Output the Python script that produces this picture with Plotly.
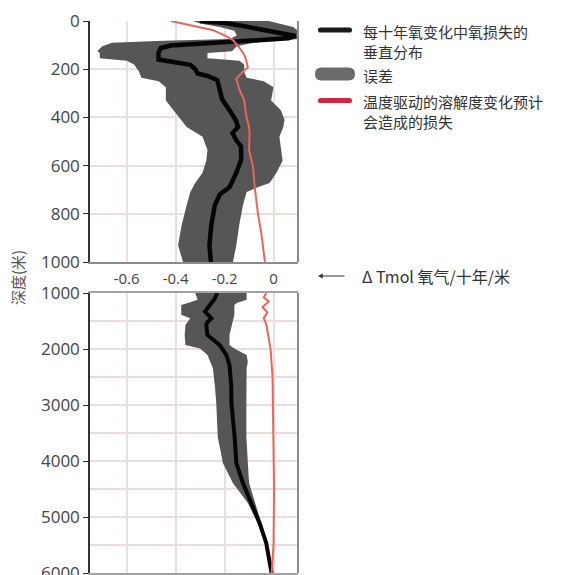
import plotly.graph_objects as go

W, H = 566, 575

# ---- Upper ocean, 0-1000 m ----
top_mean_depth = [0, 8, 20, 35, 50, 62, 72, 82, 92, 102, 112, 130, 160, 172, 182, 200,
                  218, 228, 245, 285, 325, 370, 410, 440, 465, 495, 520, 575, 630, 690,
                  720, 765, 845, 930, 1000]
top_mean = [-0.30, -0.20, -0.13, -0.05, 0.04, 0.09, 0.06, -0.10, -0.30, -0.42, -0.46, -0.47,
            -0.47, -0.40, -0.34, -0.32, -0.31, -0.27, -0.23, -0.22, -0.21, -0.18, -0.155,
            -0.145, -0.168, -0.152, -0.133, -0.132, -0.152, -0.18, -0.22, -0.24, -0.254,
            -0.262, -0.256]

top_band_depth = [0, 10, 25, 40, 60, 75, 82, 90, 105, 125, 133, 155, 165, 180, 210, 235,
                  250, 275, 330, 370, 410, 440, 480, 535, 580, 630, 672, 692, 710, 765,
                  845, 930, 1000]
top_band_lo = [-0.33, -0.30, -0.22, -0.16, -0.15, -0.18, -0.45, -0.66, -0.70, -0.72, -0.71,
               -0.71, -0.60, -0.57, -0.55, -0.54, -0.47, -0.44, -0.44, -0.41, -0.38, -0.355,
               -0.29, -0.27, -0.275, -0.29, -0.32, -0.33, -0.34, -0.355, -0.375, -0.39, -0.37]
top_band_hi = [-0.02, 0.02, 0.08, 0.10, 0.10, 0.10, 0.03, -0.08, -0.15, -0.17, -0.27, -0.27,
               -0.14, -0.12, -0.12, -0.11, -0.04, 0.00, -0.01, 0.03, 0.045, 0.04, 0.024, 0.03,
               0.037, 0.012, -0.016, -0.07, -0.11, -0.125, -0.14, -0.152, -0.166]

top_red_depth = [0, 20, 37, 60, 79, 110, 140, 166, 193, 215, 241, 286, 328, 397, 440, 466,
                 535, 604, 687, 798, 881, 1000]
top_red = [-0.42, -0.33, -0.25, -0.20, -0.166, -0.14, -0.12, -0.111, -0.105, -0.13, -0.152,
           -0.139, -0.12, -0.111, -0.10, -0.098, -0.10, -0.084, -0.077, -0.064, -0.05, -0.035]

# ---- Deep ocean, 1000-6000 m ----
deep_mean_depth = [1000, 1100, 1214, 1333, 1400, 1452, 1520, 1571, 1750, 1850, 1929, 2107,
                   2286, 2643, 2964, 3565, 4036, 4393, 4750, 5107, 5464, 5887, 6000]
deep_mean = [-0.23, -0.24, -0.26, -0.28, -0.265, -0.254, -0.27, -0.275, -0.27, -0.245, -0.22,
             -0.193, -0.18, -0.173, -0.172, -0.159, -0.152, -0.125, -0.091, -0.057, -0.03,
             -0.01, -0.008]

deep_band_depth = [1000, 1120, 1180, 1214, 1390, 1452, 1570, 1750, 1930, 1990, 2107, 2230,
                   2340, 2643, 2964, 3565, 4036, 4393, 4750, 5107, 5464, 6000]
deep_band_lo = [-0.32, -0.31, -0.35, -0.377, -0.377, -0.34, -0.36, -0.363, -0.36, -0.30, -0.27,
                -0.26, -0.248, -0.24, -0.234, -0.228, -0.207, -0.166, -0.105, -0.065, -0.035,
                -0.01]
deep_band_hi = [-0.11, -0.11, -0.15, -0.16, -0.16, -0.166, -0.17, -0.18, -0.18, -0.16, -0.11,
                -0.105, -0.11, -0.11, -0.111, -0.111, -0.105, -0.10, -0.078, -0.05, -0.025,
                -0.006]

deep_red_depth = [1000, 1080, 1150, 1250, 1350, 1450, 1550, 1700, 2000, 2500, 3500, 4500,
                  5500, 6000]
deep_red = [-0.03, -0.04, -0.02, -0.045, -0.025, -0.04, -0.03, -0.025, -0.012, -0.004, 0.0,
            0.002, 0.0, -0.008]

x_ticks = [-0.6, -0.4, -0.2, 0]
x_tick_text = ["-0.6", "-0.4", "-0.2", "0"]
top_depth_ticks = [0, 200, 400, 600, 800, 1000]

legend_lines = [["每十年氧变化中氧损失的", "垂直分布"], ["误差"],
                ["温度驱动的溶解度变化预计", "会造成的损失"]]
axis_unit = "Δ Tmol 氧气/十年/米"
depth_title = "深度(米)"

BAND = "#565656"
MEAN = "#050505"
RED_LINE = "#e8675c"
RED_KEY = "#d3263f"
GRID = "#eddcdc"
TICK_FONT = "Open Sans"
CJK = "Noto Sans CJK SC"


def band_trace(depth, lo, hi, xa, ya):
    return go.Scatter(x=lo + hi[::-1], y=depth + depth[::-1], fill="toself",
                      fillcolor=BAND, line=dict(width=0, color=BAND), mode="lines",
                      xaxis=xa, yaxis=ya, hoverinfo="skip", showlegend=False)


def line_trace(x, y, color, width, xa, ya):
    return go.Scatter(x=x, y=y, mode="lines", line=dict(color=color, width=width),
                      xaxis=xa, yaxis=ya, hoverinfo="skip", showlegend=False)


fig = go.Figure()
fig.add_trace(band_trace(top_band_depth, top_band_lo, top_band_hi, "x", "y"))
fig.add_trace(line_trace(top_mean, top_mean_depth, MEAN, 4.5, "x", "y"))
fig.add_trace(line_trace(top_red, top_red_depth, RED_LINE, 2, "x", "y"))
fig.add_trace(band_trace(deep_band_depth, deep_band_lo, deep_band_hi, "x2", "y2"))
fig.add_trace(line_trace(deep_mean, deep_mean_depth, MEAN, 4, "x2", "y2"))
fig.add_trace(line_trace(deep_red, deep_red_depth, RED_LINE, 2, "x2", "y2"))

x_dom = [90 / W, 298 / W]
top_dom = [1 - 262 / H, 1 - 21 / H]
deep_dom = [1 - 573 / H, 1 - 293 / H]

fig.update_layout(
    width=W, height=H, margin=dict(l=0, r=0, t=0, b=0),
    paper_bgcolor="white", plot_bgcolor="white", showlegend=False,
    xaxis=dict(domain=x_dom, range=[-0.75, 0.1], anchor="y", tickvals=x_ticks,
               ticktext=x_tick_text, showgrid=True, gridcolor=GRID, gridwidth=1.5,
               zeroline=False, showline=True, linecolor="#8c8c8c", linewidth=2,
               ticks="outside", ticklen=2, tickcolor="rgba(0,0,0,0)", automargin=False,
               tickfont=dict(family=TICK_FONT, size=15, color="#454545")),
    xaxis2=dict(domain=x_dom, range=[-0.75, 0.1], anchor="y2", tickvals=x_ticks,
                showticklabels=False, showgrid=True, gridcolor=GRID, gridwidth=1.5,
                zeroline=False, showline=True, mirror=True, linecolor="#a3a3a3",
                linewidth=2, automargin=False),
    yaxis=dict(domain=top_dom, range=[1000, 0], anchor="x", tickvals=top_depth_ticks,
               showgrid=True, gridcolor=GRID, gridwidth=1.5, zeroline=False,
               showline=True, linecolor="#333333", linewidth=1.5, ticks="outside",
               ticklen=5, tickcolor="#333333", automargin=False,
               tickfont=dict(family=TICK_FONT, size=17, color="#454545")),
    yaxis2=dict(domain=deep_dom, range=[6000, 1000], anchor="x2", tick0=1000, dtick=1000,
                showgrid=True, gridcolor=GRID, gridwidth=1.5, zeroline=False,
                showline=True, linecolor="#333333", linewidth=1.5, ticks="outside",
                ticklen=5, tickcolor="#333333", automargin=False, ticklabeloverflow="allow",
                minor=dict(dtick=500, showgrid=True, gridcolor=GRID, ticks=""),
                tickfont=dict(family=TICK_FONT, size=17, color="#454545")),
)

# right-hand frame of both panels
for ya in ["y", "y2"]:
    fig.add_shape(type="line", xref="x domain", yref=ya + " domain", x0=1, x1=1, y0=0, y1=1,
                  line=dict(color="#8c8c8c", width=2))


def px(x):
    return x / W


def py(y):
    return 1 - y / H


def pill(x0, x1, yc, h):
    a, b = px(x0), px(x1)
    ha = h / W
    t, m, d = py(yc - h), py(yc), py(yc + h)
    return (f"M {a + ha} {t} L {b - ha} {t} Q {b} {t} {b} {m} Q {b} {d} {b - ha} {d} "
            f"L {a + ha} {d} Q {a} {d} {a} {m} Q {a} {t} {a + ha} {t} Z")


# legend keys
for (x0, x1, yc, h, color) in [(318, 352, 30, 2.6, "#1a1a1a"), (315, 355, 74, 6.5, "#6b6b6b"),
                               (318, 352, 100.5, 2.6, RED_KEY)]:
    fig.add_shape(type="path", xref="paper", yref="paper", path=pill(x0, x1, yc, h),
                  fillcolor=color, line=dict(width=0))

# legend texts; multi-line entries use one wrapped annotation each
legend_top = [20, 64, 90]
for lines, top in zip(legend_lines, legend_top):
    fig.add_annotation(x=px(362), y=py(top), xref="paper", yref="paper",
                       text="<br>".join(lines), showarrow=False, xanchor="left",
                       yanchor="top", align="left", borderpad=0,
                       font=dict(family=CJK, size=15, color="#333333"))

# unit label with arrow pointing to the shared x axis
fig.add_annotation(x=px(318), y=py(276), xref="paper", yref="paper", text="",
                   showarrow=True, ax=28, ay=0, arrowhead=2, arrowsize=0.8,
                   arrowwidth=1.2, arrowcolor="#333333")
fig.add_annotation(x=px(360), y=py(276), xref="paper", yref="paper", text=axis_unit,
                   showarrow=False, xanchor="left", yanchor="middle",
                   font=dict(family=CJK, size=16, color="#333333"))

fig.add_annotation(x=px(18), y=py(278), xref="paper", yref="paper", text=depth_title,
                   showarrow=False, textangle=-90, xanchor="center", yanchor="middle",
                   font=dict(family=CJK, size=15, color="#555555"))

fig.write_html("out.html")
